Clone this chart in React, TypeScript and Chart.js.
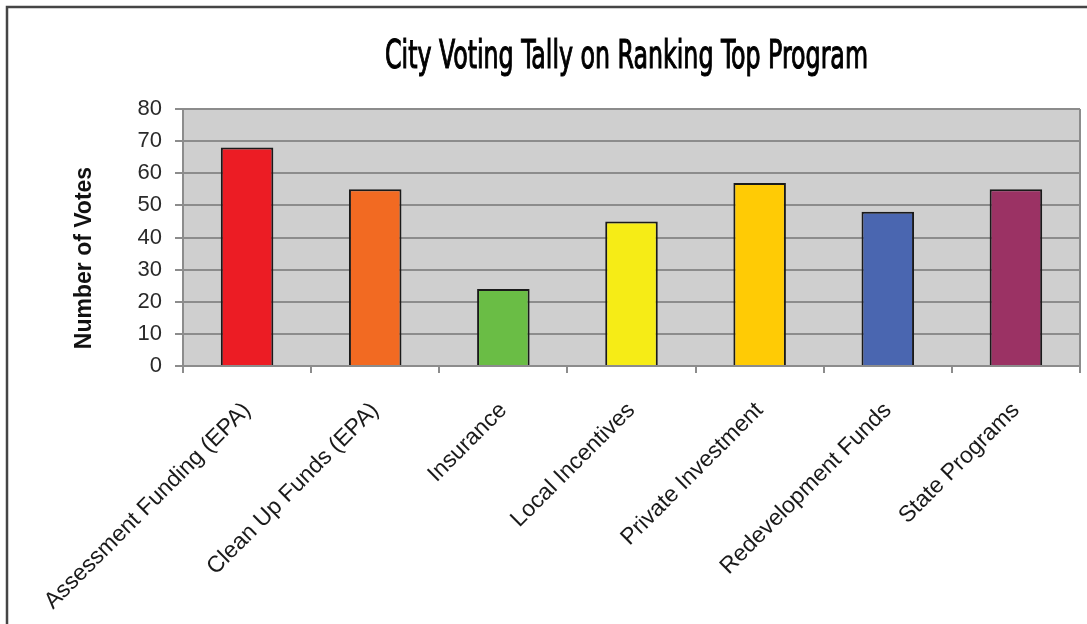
import React, { useEffect, useRef } from "react";
import { Chart, registerables } from "chart.js";

Chart.register(...registerables);

const chartTitle = "City Voting Tally on Ranking Top Program";
const yAxisTitle = "Number of Votes";
const categories = [
  "Assessment Funding (EPA)",
  "Clean Up Funds (EPA)",
  "Insurance",
  "Local Incentives",
  "Private Investment",
  "Redevelopment Funds",
  "State Programs",
];
const votes = [68, 55, 24, 45, 57, 48, 55];
const barColors = ["#ec1c24", "#f26a22", "#6abd45", "#f6ec16", "#ffcb05", "#4a66b0", "#9b3264"];
const yMin = 0;
const yMax = 80;
const yStep = 10;

const decorPlugin = {
  id: "decor",
  beforeDraw(chart: any) {
    const { ctx, chartArea } = chart;
    ctx.save();
    ctx.fillStyle = "#ffffff";
    ctx.fillRect(0, 0, chart.width, chart.height);
    ctx.fillStyle = "#cfcfcf";
    ctx.fillRect(chartArea.left, chartArea.top, chartArea.right - chartArea.left, chartArea.bottom - chartArea.top);
    ctx.restore();
  },
  afterDraw(chart: any) {
    const { ctx, chartArea } = chart;
    ctx.save();
    // right plot border
    ctx.strokeStyle = "#8c8c8c";
    ctx.lineWidth = 2;
    ctx.beginPath();
    ctx.moveTo(chartArea.right, chartArea.top);
    ctx.lineTo(chartArea.right, chartArea.bottom);
    ctx.stroke();
    // outer frame
    ctx.strokeStyle = "#454545";
    ctx.lineWidth = 2.5;
    ctx.strokeRect(7, 7, chart.width + 20, chart.height + 20);
    // title
    ctx.fillStyle = "#000000";
    ctx.strokeStyle = "#000000";
    ctx.font = "39px 'Liberation Sans Narrow', 'DejaVu Sans Condensed', 'Liberation Sans', sans-serif";
    ctx.textBaseline = "alphabetic";
    ctx.textAlign = "center";
    const w = ctx.measureText(chartTitle).width;
    const sx = 483 / w;
    ctx.translate(626.5, 68);
    ctx.scale(sx, 1);
    ctx.fillText(chartTitle, 0, 0);
    ctx.lineWidth = 1.1;
    ctx.strokeText(chartTitle, 0, 0);
    ctx.restore();
    // y axis title
    ctx.save();
    ctx.fillStyle = "#111111";
    ctx.font = "bold 23px 'Liberation Sans', Arial, sans-serif";
    ctx.textAlign = "center";
    ctx.textBaseline = "alphabetic";
    ctx.translate(91, 258);
    ctx.rotate(-Math.PI / 2);
    ctx.fillText(yAxisTitle, 0, 0);
    ctx.restore();
  },
};

export default function App() {
  const ref = useRef<HTMLCanvasElement>(null);
  useEffect(() => {
    if (!ref.current) return;
    const chart = new Chart(ref.current, {
      type: "bar",
      data: {
        labels: categories,
        datasets: [
          {
            data: votes,
            backgroundColor: barColors,
            borderColor: "#1a1a1a",
            borderWidth: 2,
            barPercentage: 0.41,
            categoryPercentage: 1,
          },
        ],
      },
      options: {
        animation: false,
        responsive: false,
        maintainAspectRatio: false,
        layout: { padding: { left: 0, right: 7, top: 109, bottom: 0 } },
        plugins: {
          legend: { display: false },
          title: { display: false },
          tooltip: { enabled: false },
        },
        scales: {
          x: {
            offset: true,
            afterFit: (scale: any) => {
              scale.height = 624 - 366;
            },
            grid: {
              offset: true,
              drawOnChartArea: false,
              drawTicks: true,
              tickLength: 7,
              color: "#8c8c8c",
              lineWidth: 2,
            },
            border: { color: "#8c8c8c", width: 2 },
            ticks: {
              autoSkip: false,
              maxRotation: 45,
              minRotation: 45,
              padding: 24,
              color: "#1a1a1a",
              font: { family: "'Liberation Sans', Arial, sans-serif", size: 23 },
            },
          },
          y: {
            min: yMin,
            max: yMax,
            afterFit: (scale: any) => {
              scale.width = 183;
            },
            grid: {
              color: "#8c8c8c",
              lineWidth: 2,
              drawTicks: true,
              tickLength: 8,
            },
            border: { color: "#8c8c8c", width: 2 },
            ticks: {
              stepSize: yStep,
              padding: 13,
              color: "#2a2a2a",
              font: { family: "'Liberation Sans', Arial, sans-serif", size: 22 },
            },
          },
        },
      },
      plugins: [decorPlugin],
    });
    return () => chart.destroy();
  }, []);
  return (
    <div style={{ position: "absolute", left: 0, top: 0, width: 1087, height: 624 }}>
      <canvas ref={ref} width={1087} height={624} style={{ display: "block" }} />
    </div>
  );
}
